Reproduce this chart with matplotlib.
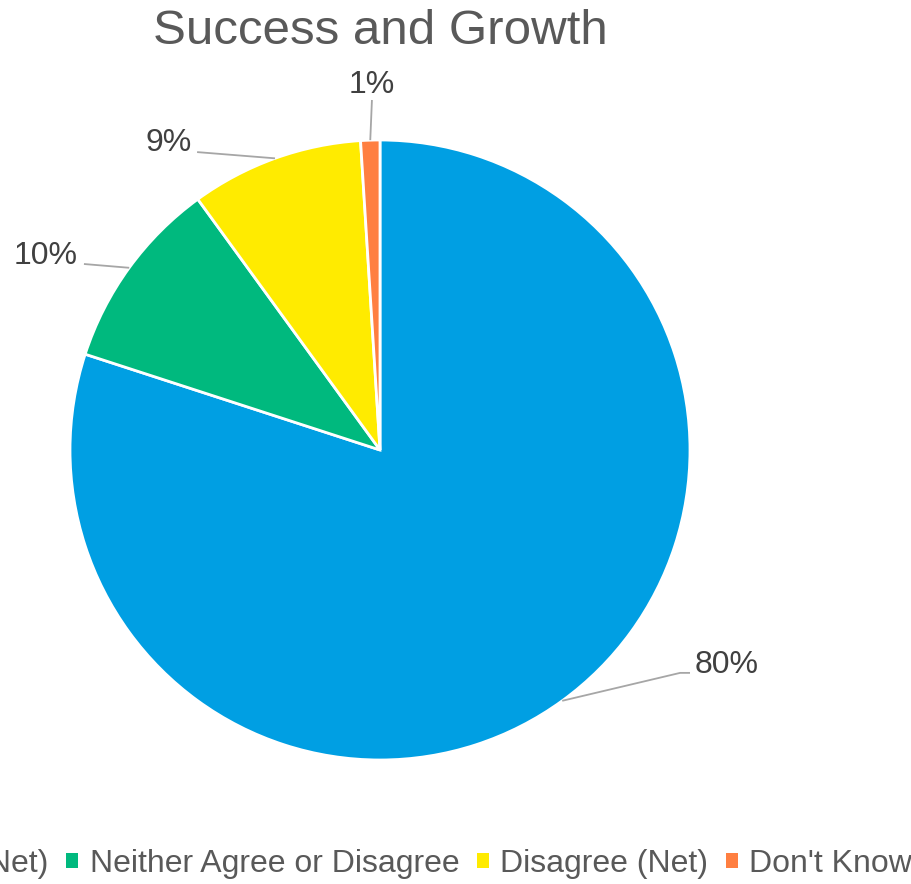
import numpy as np
import matplotlib.pyplot as plt
from matplotlib.patches import Patch

plt.rcParams['font.family'] = ['Liberation Sans', 'DejaVu Sans']

categories = ["Agree (Net)", "Neither Agree or Disagree", "Disagree (Net)", "Don't Know"]
shares = [80, 10, 9, 1]
colors = ["#009FE3", "#00B97E", "#FFEB00", "#FF7F41"]

# label text anchor (x, y, ha) and leader elbow, in pie units
label_pos = [(1.016, -0.694, "left"), (-0.974, 0.626, "right"),
             (-0.606, 0.990, "right"), (-0.026, 1.178, "center")]
elbows = [(0.968, -0.719, 1.0, -0.719), (-0.955, 0.600, -0.955, 0.600),
          (-0.590, 0.961, -0.590, 0.961), (-0.026, 1.129, -0.026, 1.129)]

W, H = 911, 884
fig = plt.figure(figsize=(W / 100, H / 100), dpi=100)
fig.patch.set_facecolor("white")

cx, cy, r = 380, 450, 310
ax = fig.add_axes([(cx - r) / W, (H - cy - r) / H, 2 * r / W, 2 * r / H])
wedges, _ = ax.pie(shares, colors=colors, startangle=90, counterclock=False,
                   radius=1, wedgeprops=dict(edgecolor="white", linewidth=2))
ax.set_xlim(-1, 1)
ax.set_ylim(-1, 1)
ax.set_axis_off()

total = sum(shares)
for w, v, (tx, ty, ha), (ex, ey, ex2, ey2) in zip(wedges, shares, label_pos, elbows):
    mid = np.deg2rad((w.theta1 + w.theta2) / 2)
    px, py = np.cos(mid), np.sin(mid)
    ax.plot([px, ex, ex2], [py, ey, ey2], color="#A6A6A6", lw=1.3,
            clip_on=False, solid_capstyle="butt")
    ax.text(tx, ty, f"{v / total * 100:.0f}%", ha=ha, va="center",
            fontsize=23, color="#404040", clip_on=False)

fig.text(380 / W, 1 - 31 / H, "Success and Growth", ha="center", va="center",
         fontsize=35.5, color="#595959")

handles = [Patch(facecolor=c, edgecolor="none") for c in colors]
fig.legend(handles, categories, loc="center", ncol=4,
           bbox_to_anchor=(386 / W, 1 - 864 / H), frameon=False,
           fontsize=23, labelcolor="#595959", handlelength=0.38,
           handleheight=0.38, handletextpad=0.35, columnspacing=0.55,
           borderaxespad=0, borderpad=0)

fig.savefig("out.png", dpi=100)
